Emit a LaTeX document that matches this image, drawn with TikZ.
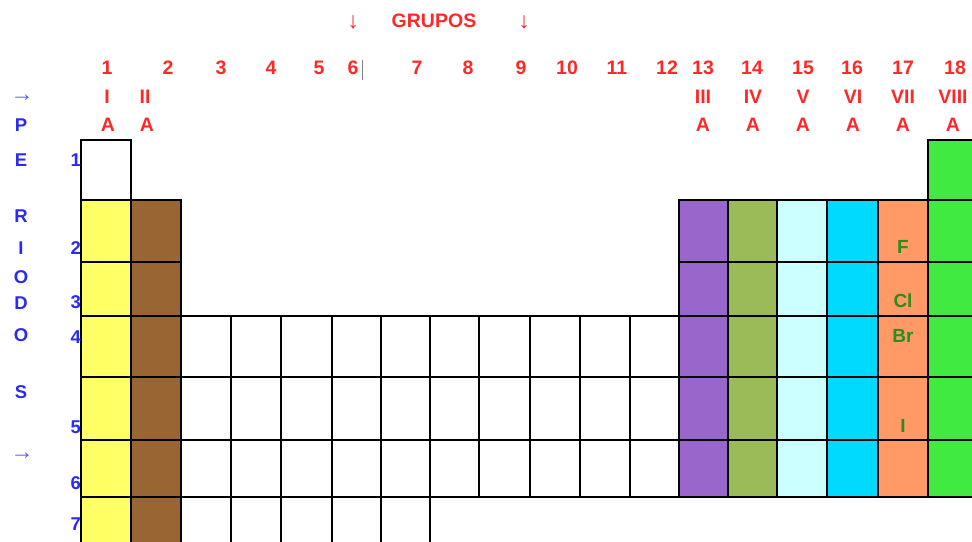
\documentclass[tikz,border=0pt]{standalone}
\usepackage{fontspec}
\setmainfont{Liberation Sans}
\usetikzlibrary{positioning}
\definecolor{grpred}{HTML}{FF2828}
\definecolor{perblue}{HTML}{2828FF}
\definecolor{elemgreen}{HTML}{2E8B1E}
\definecolor{alcalino}{HTML}{FFFF66}
\definecolor{terroso}{HTML}{996633}
\definecolor{terreo}{HTML}{9966CC}
\definecolor{carbono}{HTML}{9BBB59}
\definecolor{nitro}{HTML}{CCFFFF}
\definecolor{calco}{HTML}{00DAFF}
\definecolor{halo}{HTML}{FF9966}
\definecolor{noble}{HTML}{40EA40}
\tikzset{
  cell/.style={draw=black,line width=2pt},
  grp/.style={text=grpred,inner sep=0pt,font=\bfseries\fontsize{19.5}{19.5}\selectfont},
  grparrow/.style={text=grpred,inner sep=0pt,font=\fontsize{23}{23}\selectfont},
  per/.style={text=perblue,inner sep=0pt,font=\bfseries\fontsize{18.5}{18.5}\selectfont},
  perarrow/.style={text=perblue!75,inner sep=0pt,font=\fontsize{23}{23}\selectfont},
  elem/.style={text=elemgreen,inner sep=0pt,font=\bfseries\fontsize{19}{19}\selectfont}
}
\begin{document}
\begin{tikzpicture}[x=1pt,y=-1pt]
\useasboundingbox (0,0) rectangle (972,541);
\clip (0,0) rectangle (972,541);
\draw[cell,fill=white] (81,140) rectangle (131,200);
\foreach \xa/\xb/\c in {81/131/alcalino,131/181/terroso}
  \foreach \ya/\yb in {200/262,262/316,316/377,377/440,440/497,497/560}
    \draw[cell,fill=\c] (\xa,\ya) rectangle (\xb,\yb);
\foreach \xa/\xb in {181/231,231/281,281/332,332/381,381/430,430/479,479/530,530/580,580/630,630/679}
  \foreach \ya/\yb in {316/377,377/440,440/497}
    \draw[cell,fill=white] (\xa,\ya) rectangle (\xb,\yb);
\foreach \xa/\xb in {181/231,231/281,281/332,332/381,381/430}
  \draw[cell,fill=white] (\xa,497) rectangle (\xb,560);
\foreach \xa/\xb/\c in {679/728/terreo,728/777/carbono,777/827/nitro,827/878/calco,878/928/halo}
  \foreach \ya/\yb in {200/262,262/316,316/377,377/440,440/497}
    \draw[cell,fill=\c] (\xa,\ya) rectangle (\xb,\yb);
\foreach \ya/\yb in {140/200,200/262,262/316,316/377,377/440,440/497}
  \draw[cell,fill=noble] (928,\ya) rectangle (978,\yb);

\node[grp] (grupos) at (434,21) {GRUPOS};
\node[grparrow] (downl) at (353,22) {↓};
\node[grparrow] (downr) at (524,22) {↓};
\foreach \n/\x in {1/107,2/168,3/221,4/271,5/319,6/353,7/417,8/468,9/521,10/567,11/617,12/667,13/703,14/752,15/803,16/852,17/903,18/955}
  \node[grp] (g\n) at (\x,68) {\n};
\draw[gray,line width=1pt] (362,60) -- (362,80);
\foreach \r/\x [count=\k] in {I/107,II/145,III/703,IV/753,V/803,VI/853,VII/903,VIII/953}
  \node[grp] (rom\k) at (\x,97) {\r};
\foreach \x [count=\k] in {108,147,703,753,803,853,903,953}
  \node[grp] (sub\k) at (\x,125) {A};

\node[perarrow] (arrtop) at (22,98) {→};
\node[perarrow] (arrbot) at (22,456) {→};
\foreach \l/\y [count=\k] in {P/125,E/160,R/216,I/248,O/277,D/303,O/335,S/392}
  \node[per] (let\k) at (21,\y) {\l};
\foreach \n/\y in {1/160,2/248,3/302,4/337,5/427,6/483,7/524}
  \node[per,anchor=east] (per\n) at (81,\y) {\n};

\node[elem] (fluor) at (903,247) {F};
\node[elem] (cloro) at (903,301) {Cl};
\node[elem] (bromo) at (903,336) {Br};
\node[elem] (iodo) at (903,426) {I};
\end{tikzpicture}
\end{document}
